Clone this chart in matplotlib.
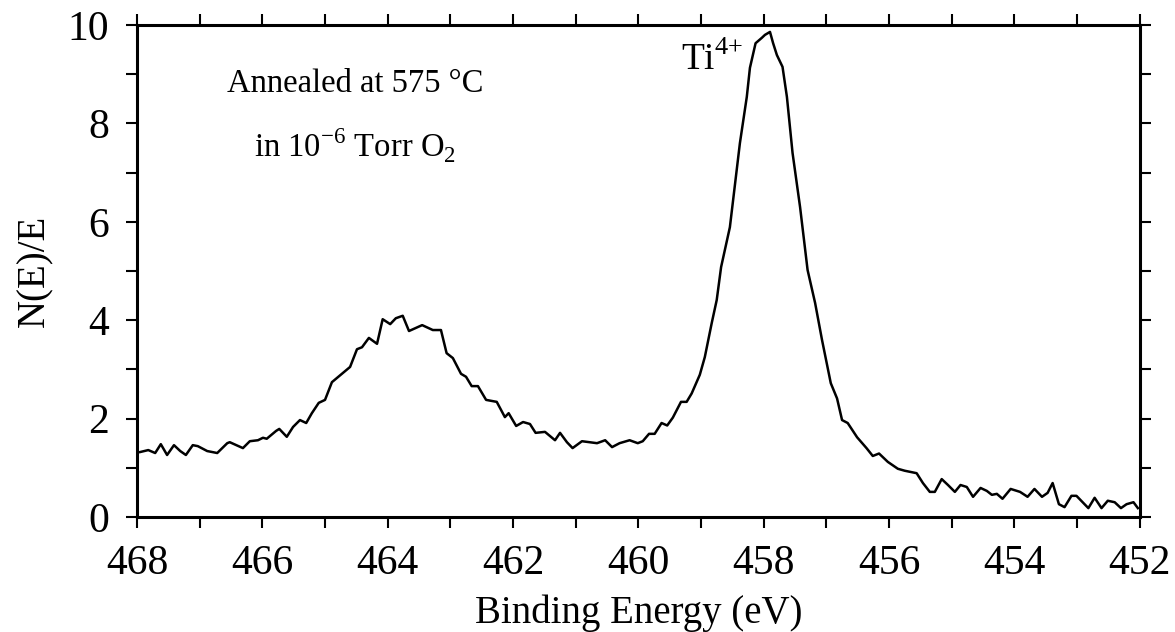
import matplotlib.pyplot as plt
from matplotlib.ticker import MultipleLocator

plt.rcParams['font.family'] = ['Liberation Serif', 'DejaVu Serif']
plt.rcParams['mathtext.fontset'] = 'custom'
plt.rcParams['mathtext.rm'] = 'Liberation Serif'

# Ti 2p spectrum, binding energy (eV) vs N(E)/E
energy = [467.95, 467.82, 467.71, 467.62, 467.52, 467.41, 467.31, 467.22, 467.11, 467.03,
          466.88, 466.72, 466.56, 466.52, 466.31, 466.20, 466.07, 465.99, 465.93, 465.78,
          465.73, 465.61, 465.51, 465.40, 465.30, 465.21, 465.10, 465.00, 464.89, 464.60,
          464.49, 464.41, 464.30, 464.17, 464.08, 463.96, 463.87, 463.76, 463.66, 463.45,
          463.28, 463.15, 463.06, 462.96, 462.83, 462.75, 462.66, 462.56, 462.43, 462.26,
          462.13, 462.07, 461.95, 461.84, 461.73, 461.64, 461.49, 461.33, 461.25, 461.14,
          461.05, 460.90, 460.66, 460.53, 460.42, 460.30, 460.14, 460.01, 459.93, 459.83,
          459.74, 459.63, 459.54, 459.45, 459.32, 459.23, 459.15, 459.02, 458.94, 458.83,
          458.75, 458.68, 458.54, 458.38, 458.27, 458.22, 458.13, 458.03, 457.98, 457.90,
          457.85, 457.79, 457.70, 457.63, 457.54, 457.42, 457.30, 457.18, 457.07, 456.93,
          456.83, 456.75, 456.66, 456.51, 456.36, 456.26, 456.16, 456.02, 455.86, 455.75,
          455.56, 455.46, 455.35, 455.27, 455.16, 455.06, 454.95, 454.86, 454.76, 454.66,
          454.54, 454.44, 454.36, 454.28, 454.19, 454.06, 453.91, 453.79, 453.68, 453.56,
          453.47, 453.39, 453.29, 453.20, 453.09, 453.01, 452.91, 452.82, 452.72, 452.61,
          452.51, 452.40, 452.30, 452.21, 452.10, 452.03]
intensity = [1.32, 1.36, 1.30, 1.48, 1.26, 1.46, 1.34, 1.26, 1.46, 1.44,
             1.34, 1.30, 1.50, 1.52, 1.40, 1.54, 1.56, 1.61, 1.59, 1.75,
             1.79, 1.63, 1.83, 1.97, 1.91, 2.11, 2.32, 2.38, 2.74, 3.05,
             3.41, 3.45, 3.64, 3.52, 4.02, 3.92, 4.04, 4.09, 3.78, 3.90,
             3.80, 3.80, 3.33, 3.23, 2.91, 2.85, 2.66, 2.66, 2.38, 2.34,
             2.03, 2.11, 1.85, 1.93, 1.89, 1.71, 1.73, 1.56, 1.71, 1.52,
             1.40, 1.54, 1.50, 1.56, 1.42, 1.50, 1.56, 1.50, 1.54, 1.69,
             1.69, 1.91, 1.86, 2.02, 2.34, 2.34, 2.51, 2.89, 3.25, 3.94,
             4.41, 5.08, 5.89, 7.60, 8.54, 9.13, 9.63, 9.74, 9.80, 9.86,
             9.63, 9.39, 9.15, 8.54, 7.40, 6.30, 5.02, 4.35, 3.60, 2.72,
             2.41, 1.97, 1.91, 1.62, 1.40, 1.24, 1.29, 1.12, 0.98, 0.94,
             0.89, 0.69, 0.51, 0.51, 0.77, 0.65, 0.51, 0.65, 0.61, 0.41,
             0.59, 0.53, 0.45, 0.47, 0.37, 0.57, 0.51, 0.41, 0.57, 0.41,
             0.49, 0.69, 0.26, 0.20, 0.43, 0.43, 0.30, 0.18, 0.39, 0.18,
             0.33, 0.30, 0.18, 0.26, 0.30, 0.18]

fig = plt.figure(figsize=(11.75, 6.32), dpi=100)
ax = fig.add_axes([0.1166, 0.182, 0.8534, 0.7784])

ax.plot(energy, intensity, color='black', lw=1.8)

ax.set_xlim(468, 452)
ax.set_ylim(0, 10)
ax.xaxis.set_major_locator(MultipleLocator(2))
ax.xaxis.set_minor_locator(MultipleLocator(1))
ax.yaxis.set_major_locator(MultipleLocator(2))
ax.yaxis.set_minor_locator(MultipleLocator(1))
ax.tick_params(which='both', direction='out', length=8, width=1.5,
               top=True, right=True, labelsize=30)
ax.tick_params(axis='x', pad=12)
ax.tick_params(axis='y', pad=12)
for s in ax.spines.values():
    s.set_linewidth(2.2)

ax.set_xlabel('Binding Energy (eV)', fontsize=28, labelpad=8)
ax.set_ylabel('N(E)/E', fontsize=28, labelpad=10)

ax.text(464.52, 8.64, 'Annealed at 575 °C', fontsize=23.5, ha='center', va='baseline')
ax.text(464.52, 7.32, r'in 10$^{-6}$ Torr O$_2$', fontsize=23.5, ha='center', va='baseline')
ax.text(458.83, 9.09, r'Ti$^{4{+}}$', fontsize=27, ha='center', va='baseline')

fig.savefig('out.png', dpi=100)
